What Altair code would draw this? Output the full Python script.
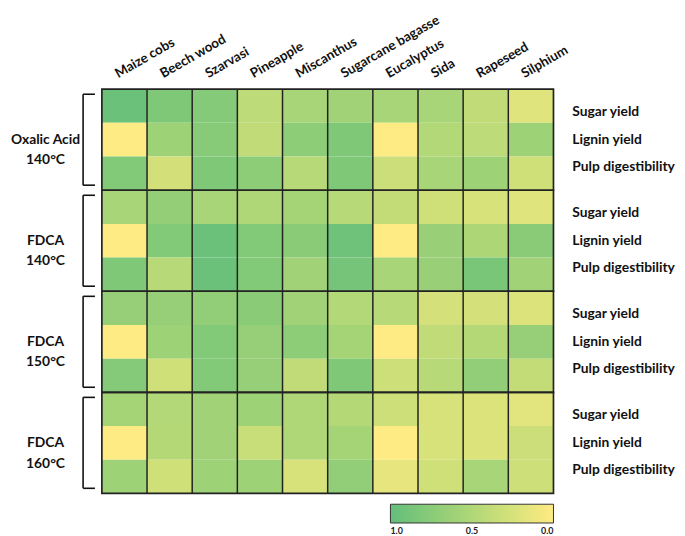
import altair as alt
import pandas as pd

columns = ["Maize cobs", "Beech wood", "Szarvasi", "Pineapple", "Miscanthus",
           "Sugarcane bagasse", "Eucalyptus", "Sida", "Rapeseed", "Silphium"]
metrics = ["Sugar yield", "Lignin yield", "Pulp digestibility"]
group_names = ["Oxalic Acid", "FDCA", "FDCA", "FDCA"]
group_temps = ["140°C", "140°C", "150°C", "160°C"]

# values per group: rows = Sugar yield, Lignin yield, Pulp digestibility
oxalic_140 = [
    [0.95, 0.82, 0.78, 0.42, 0.55, 0.60, 0.55, 0.55, 0.40, 0.20],
    [0.00, 0.62, 0.77, 0.40, 0.72, 0.82, 0.00, 0.48, 0.42, 0.62],
    [0.80, 0.28, 0.82, 0.72, 0.45, 0.82, 0.33, 0.55, 0.62, 0.30],
]
fdca_140 = [
    [0.55, 0.68, 0.55, 0.50, 0.57, 0.45, 0.38, 0.30, 0.25, 0.20],
    [0.00, 0.80, 0.95, 0.80, 0.75, 0.93, 0.00, 0.65, 0.52, 0.75],
    [0.82, 0.45, 0.95, 0.80, 0.60, 0.88, 0.55, 0.65, 0.85, 0.60],
]
fdca_150 = [
    [0.67, 0.67, 0.70, 0.75, 0.60, 0.48, 0.45, 0.27, 0.27, 0.22],
    [0.00, 0.62, 0.80, 0.67, 0.72, 0.57, 0.00, 0.40, 0.47, 0.67],
    [0.78, 0.30, 0.80, 0.67, 0.40, 0.82, 0.32, 0.45, 0.70, 0.38],
]
fdca_160 = [
    [0.57, 0.48, 0.60, 0.62, 0.50, 0.47, 0.32, 0.25, 0.22, 0.18],
    [0.00, 0.47, 0.60, 0.35, 0.50, 0.57, 0.00, 0.25, 0.22, 0.33],
    [0.62, 0.30, 0.62, 0.62, 0.25, 0.70, 0.15, 0.30, 0.55, 0.32],
]
group_values = [oxalic_140, fdca_140, fdca_150, fdca_160]

legend_values = [1.0, 0.5, 0.0]

W, H = 457, 409
FONT = "Lato"

cells = []
for gi, gv in enumerate(group_values):
    for mi, row in enumerate(gv):
        for ci, v in enumerate(row):
            r = gi * 3 + mi
            cells.append({"c0": ci, "c1": ci + 1, "r0": r, "r1": r + 1, "v": v,
                          "col": columns[ci], "metric": metrics[mi]})
df = pd.DataFrame(cells)

groups_df = pd.DataFrame([
    {"top": gi * 3, "bottom": gi * 3 + 3, "mid": gi * 3 + 1.5,
     "btop": gi * 3 + 0.15, "bbot": gi * 3 + 2.85,
     "label": group_names[gi] + "\n" + group_temps[gi]}
    for gi in range(len(group_names))
])

rowlab_df = pd.DataFrame([
    {"y": gi * 3 + 1.5 + (mi - 1) * 0.82, "label": m}
    for gi in range(len(group_names)) for mi, m in enumerate(metrics)
])

col_df = pd.DataFrame([{"x": ci + 0.36, "label": c} for ci, c in enumerate(columns)])
div_df = pd.DataFrame([{"x": ci} for ci in range(1, len(columns))])

xs = alt.Scale(domain=[0, len(columns)], nice=False, zero=False)
ys = alt.Scale(domain=[0, 3 * len(group_names)], nice=False, zero=False, reverse=True)

heat = alt.Chart(df).mark_rect().encode(
    x=alt.X("c0:Q", scale=xs, axis=None),
    x2="c1",
    y=alt.Y("r0:Q", scale=ys, axis=None),
    y2="r1",
    color=alt.Color(
        "v:Q",
        scale=alt.Scale(domain=[1, 0], range=["#63BE7B", "#FFEB84"]),
        legend=alt.Legend(
            orient="none", legendX=292, legendY=420, direction="horizontal",
            gradientLength=165, gradientThickness=19, title=None,
            values=legend_values, format=".1f", labelFont=FONT,
            labelFontWeight="bold", labelFontSize=9, labelColor="#222",
            gradientStrokeColor="#333", gradientStrokeWidth=1, labelOffset=4,
        ),
    ),
)

dividers = alt.Chart(div_df).mark_rule(color="#222", strokeWidth=1.5).encode(
    x=alt.X("x:Q", scale=xs, axis=None),
    y=alt.value(0), y2=alt.value(H),
)

borders = alt.Chart(groups_df).mark_rect(filled=False, stroke="#222", strokeWidth=1.7).encode(
    x=alt.value(0), x2=alt.value(W),
    y=alt.Y("top:Q", scale=ys, axis=None), y2="bottom",
)

bracket_v = alt.Chart(groups_df).mark_rule(color="#111", strokeWidth=1.6).encode(
    x=alt.value(-19), y=alt.Y("btop:Q", scale=ys, axis=None), y2="bbot",
)
bracket_t = alt.Chart(groups_df).mark_rule(color="#111", strokeWidth=1.6).encode(
    x=alt.value(-19), x2=alt.value(-7), y=alt.Y("btop:Q", scale=ys, axis=None),
)
bracket_b = alt.Chart(groups_df).mark_rule(color="#111", strokeWidth=1.6).encode(
    x=alt.value(-19), x2=alt.value(-7), y=alt.Y("bbot:Q", scale=ys, axis=None),
)

group_text = alt.Chart(groups_df).mark_text(
    font=FONT, fontWeight="bold", fontSize=14, lineBreak="\n", lineHeight=21,
    align="center", baseline="middle", color="#111",
).encode(x=alt.value(-57), y=alt.Y("mid:Q", scale=ys, axis=None), text="label:N")

row_text = alt.Chart(rowlab_df).mark_text(
    font=FONT, fontWeight="bold", fontSize=14, align="left", baseline="middle", color="#111",
).encode(x=alt.value(W + 19), y=alt.Y("y:Q", scale=ys, axis=None), text="label:N")

col_text = alt.Chart(col_df).mark_text(
    font=FONT, fontWeight="bold", fontSize=13.5, align="left", baseline="alphabetic",
    angle=330, color="#111",
).encode(x=alt.X("x:Q", scale=xs, axis=None), y=alt.value(-11), text="label:N")

chart = alt.layer(
    heat, dividers, borders, bracket_v, bracket_t, bracket_b, group_text, row_text, col_text
).properties(
    width=W, height=H,
    autosize=alt.AutoSizeParams(type="none"),
    padding={"left": 95, "top": 79, "right": 125, "bottom": 40},
).configure_view(stroke=None)

chart.save("out.html", embed_options={"renderer": "svg", "actions": False})
